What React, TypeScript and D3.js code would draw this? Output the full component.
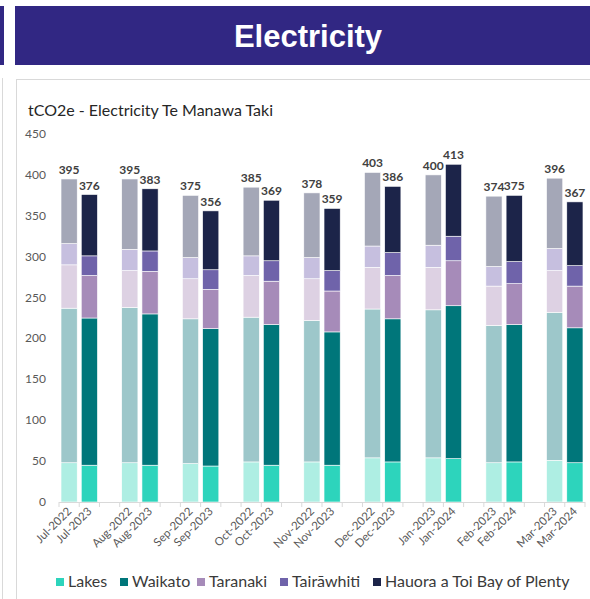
import React, { useEffect, useRef } from 'react';
import * as d3 from 'd3';

// month pairs: previous year vs current year
const prevLabels = ['Jul-2022', 'Aug-2022', 'Sep-2022', 'Oct-2022', 'Nov-2022', 'Dec-2022', 'Jan-2023', 'Feb-2023', 'Mar-2023'];
const currLabels = ['Jul-2023', 'Aug-2023', 'Sep-2023', 'Oct-2023', 'Nov-2023', 'Dec-2023', 'Jan-2024', 'Feb-2024', 'Mar-2024'];

const regions = ['Lakes', 'Waikato', 'Taranaki', 'Tairāwhiti', 'Hauora a Toi Bay of Plenty'];

// tCO2e per region, previous year
const prevLakes = [48, 48, 47, 49, 49, 54, 54, 48, 51];
const prevWaikato = [189, 190, 177, 177, 173, 182, 181, 168, 181];
const prevTaranaki = [53, 45, 49, 51, 51, 51, 52, 48, 51];
const prevTairawhiti = [26, 26, 26, 24, 26, 26, 27, 24, 27];
const prevBop = [79, 86, 76, 84, 79, 90, 86, 86, 86];

// tCO2e per region, current year
const currLakes = [45, 45, 44, 45, 45, 49, 53, 49, 48];
const currWaikato = [180, 185, 168, 172, 163, 175, 187, 168, 165];
const currTaranaki = [52, 52, 48, 53, 50, 53, 55, 50, 51];
const currTairawhiti = [24, 25, 24, 25, 25, 28, 30, 27, 25];
const currBop = [75, 76, 72, 74, 76, 81, 88, 81, 78];

const yTicks = [0, 50, 100, 150, 200, 250, 300, 350, 400, 450];

const currColors = ['#2dd4bc', '#00767a', '#a68bb9', '#6f63aa', '#1c2449'];
const prevColors = ['#aeeee3', '#9dc7ca', '#ddd1e3', '#c6bfdf', '#a4a7b7'];

const App = () => {
  const ref = useRef<SVGSVGElement>(null);

  useEffect(() => {
    document.body.style.margin = '0';
    const svg = d3.select(ref.current);
    svg.selectAll('*').remove();

    const font = 'Lato, "Open Sans", sans-serif';

    // header band
    svg.append('rect').attr('x', 0).attr('y', 6).attr('width', 4).attr('height', 59).attr('fill', '#312783');
    svg.append('rect').attr('x', 15).attr('y', 6).attr('width', 575).attr('height', 59).attr('fill', '#312783');
    svg.append('text')
      .attr('x', 308).attr('y', 47)
      .attr('text-anchor', 'middle')
      .attr('fill', '#fff')
      .attr('font-family', 'Arial, "Liberation Sans", sans-serif')
      .attr('font-weight', 'bold')
      .attr('font-size', 31)
      .text('Electricity');

    // panel frames
    svg.append('line').attr('x1', 2.5).attr('x2', 2.5).attr('y1', 78).attr('y2', 599).attr('stroke', '#d9d9d9');
    svg.append('rect')
      .attr('x', 16.5).attr('y', 79.5).attr('width', 600).attr('height', 600)
      .attr('fill', '#fff').attr('stroke', '#d9d9d9');

    svg.append('text')
      .attr('x', 28).attr('y', 116)
      .attr('fill', '#262626')
      .attr('font-family', font)
      .attr('font-size', 16)
      .text('tCO2e - Electricity Te Manawa Taki');

    // slots: prev, curr, gap, ...
    type Slot = { key: string; label: string; idx: number; prev: boolean };
    const slots: Slot[] = [];
    prevLabels.forEach((p, i) => {
      slots.push({ key: p, label: p, idx: i, prev: true });
      slots.push({ key: currLabels[i], label: currLabels[i], idx: i, prev: false });
      if (i < prevLabels.length - 1) slots.push({ key: 'gap' + i, label: '', idx: i, prev: false });
    });
    const barSlots = slots.filter((s) => s.label !== '');

    const x = d3.scaleBand<string>().domain(slots.map((s) => s.key)).range([59, 585]).paddingInner(0.2).paddingOuter(0.1);
    const y = d3.scaleLinear().domain([0, 450]).range([502, 134]);

    // y axis labels
    svg.append('g')
      .selectAll('text')
      .data(yTicks)
      .join('text')
      .attr('x', 46)
      .attr('y', (d) => y(d) + 4)
      .attr('text-anchor', 'end')
      .attr('fill', '#595959')
      .attr('font-family', font)
      .attr('font-size', 12)
      .text((d) => d);

    const prevSeries = [prevLakes, prevWaikato, prevTaranaki, prevTairawhiti, prevBop];
    const currSeries = [currLakes, currWaikato, currTaranaki, currTairawhiti, currBop];

    const rows = barSlots.map((s) => {
      const src = s.prev ? prevSeries : currSeries;
      const row: any = { key: s.key, prev: s.prev };
      regions.forEach((r, k) => (row[r] = src[k][s.idx]));
      return row;
    });

    const stack = d3.stack<any>().keys(regions);
    const layers = stack(rows);

    layers.forEach((layer, k) => {
      svg.append('g')
        .selectAll('rect')
        .data(layer)
        .join('rect')
        .attr('x', (d) => x(d.data.key)!)
        .attr('width', x.bandwidth())
        .attr('y', (d) => y(d[1]))
        .attr('height', (d) => y(d[0]) - y(d[1]))
        .attr('fill', (d) => (d.data.prev ? prevColors[k] : currColors[k]))
        .attr('stroke', '#fff')
        .attr('stroke-width', 0.6);
    });

    // totals
    svg.append('g')
      .selectAll('text')
      .data(rows)
      .join('text')
      .attr('x', (d) => x(d.key)! + x.bandwidth() / 2)
      .attr('y', (d) => y(d3.sum(regions, (r) => d[r])) - 5)
      .attr('text-anchor', 'middle')
      .attr('fill', '#404040')
      .attr('font-family', font)
      .attr('font-weight', 'bold')
      .attr('font-size', 12)
      .text((d) => d3.sum(regions, (r) => d[r]));

    // x axis
    svg.append('line').attr('x1', 59).attr('x2', 585).attr('y1', 502.5).attr('y2', 502.5).attr('stroke', '#d9d9d9');
    const step = x.step();
    const start = x(slots[0].key)! - (step - x.bandwidth()) / 2;
    svg.append('g')
      .selectAll('line')
      .data(d3.range(slots.length + 1))
      .join('line')
      .attr('x1', (i) => start + i * step)
      .attr('x2', (i) => start + i * step)
      .attr('y1', 502)
      .attr('y2', 507)
      .attr('stroke', '#d9d9d9');

    svg.append('g')
      .selectAll('text')
      .data(barSlots)
      .join('text')
      .attr('transform', (s) => `translate(${x(s.key)! + x.bandwidth() / 2 + 3},${512}) rotate(-45)`)
      .attr('text-anchor', 'end')
      .attr('fill', '#595959')
      .attr('font-family', font)
      .attr('font-size', 11.5)
      .text((s) => s.label);

    // legend
    const legendX = [56, 120, 197, 280, 373];
    const lg = svg.append('g').selectAll('g').data(regions).join('g')
      .attr('transform', (_, i) => `translate(${legendX[i]},587)`);
    lg.append('rect').attr('x', 0).attr('y', -9).attr('width', 8).attr('height', 8).attr('fill', (_, i) => currColors[i]);
    lg.append('text')
      .attr('x', 12).attr('y', 0)
      .attr('fill', '#3a3a3a')
      .attr('font-family', font)
      .attr('font-size', 16)
      .text((d) => d);
  }, []);

  return <svg ref={ref} width={590} height={599} style={{ display: 'block', position: 'absolute', left: 0, top: 0 }} />;
};

export default App;
